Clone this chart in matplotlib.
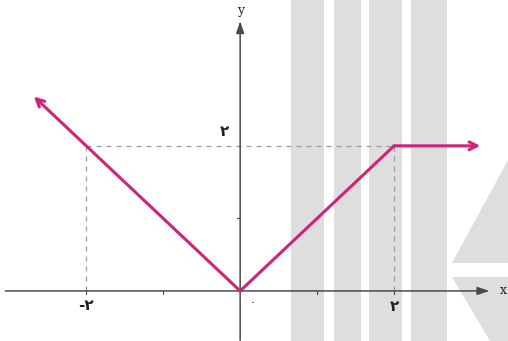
"""
Piecewise graph: y = |x| for x <= 2, y = 2 for x > 2, drawn textbook style.
"""

import matplotlib.pyplot as plt
import matplotlib.patches as mpatches

# Piecewise pieces of the function (x, y)
left_x = [0.0, -2.68]
left_y = [0.0, 2.68]
mid_x = [0.0, 2.0]
mid_y = [0.0, 2.0]
right_x = [2.0, 3.12]
right_y = [2.0, 2.0]

# Guide points and labels
guide_x = 2.0
guide_y = 2.0
tick_x = [-2, -1, 1, 2]
tick_y = [1, 2]
label_neg = '-۲'
label_pos = '۲'
label_zero = '۰'

LINE = '#d0237a'
AXIS = '#4a4a4a'
GUIDE = '#9a9a9a'
BAR = '#dedede'
TXT = '#222222'

W, H = 508, 341


def px(x0, y0):
    """Figure-pixel coordinates (top-left origin) to figure fraction."""
    return x0 / W, 1 - y0 / H


def main():
    plt.rcParams['font.family'] = ['DejaVu Sans']
    fig = plt.figure(figsize=(W / 100, H / 100), dpi=100)

    # background decoration (scanned-page watermark)
    bg = fig.add_axes([0, 0, 1, 1], zorder=0)
    bg.set_xlim(0, 1)
    bg.set_ylim(0, 1)
    bg.axis('off')
    for x0, x1 in [(291, 324), (334, 361), (369, 402), (411, 447)]:
        bg.add_patch(mpatches.Rectangle(
            (x0 / W, 0), (x1 - x0) / W, 1,
            facecolor=BAR, edgecolor='none'))
    tri_up = [px(452, 263), px(508, 263), px(508, 160)]
    tri_dn = [px(452, 277), px(508, 277), px(508, 341), px(490, 341)]
    for pts in (tri_up, tri_dn):
        bg.add_patch(mpatches.Polygon(pts, closed=True,
                                      facecolor=BAR, edgecolor='none'))

    ax = fig.add_axes([0, 0, 1, 1], zorder=1)
    ax.set_xlim(-3.12, 3.48)
    ax.set_ylim(-0.69, 4.01)
    ax.axis('off')
    ax.patch.set_alpha(0)

    # axes with arrowheads
    ax.annotate('', xy=(3.24, 0), xytext=(-3.05, 0),
                arrowprops=dict(arrowstyle='-|>,head_length=0.6,head_width=0.2',
                                color=AXIS, lw=1.1,
                                mutation_scale=12, shrinkA=0, shrinkB=0))
    ax.annotate('', xy=(0, 3.72), xytext=(0, -0.68),
                arrowprops=dict(arrowstyle='-|>,head_length=0.6,head_width=0.2',
                                color=AXIS, lw=1.1,
                                mutation_scale=12, shrinkA=0, shrinkB=0))
    ax.text(3.42, 0, 'x', ha='center', va='center', fontsize=9, color=TXT,
            family='DejaVu Serif')
    ax.text(0, 3.86, 'y', ha='center', va='center', fontsize=9, color=TXT,
            family='DejaVu Serif')

    # small ticks
    for t in tick_x:
        ax.plot([t, t], [0, -0.04], color=AXIS, lw=0.8)
    for t in tick_y:
        ax.plot([0, -0.04], [t, t], color=AXIS, lw=0.8)

    # dashed guides
    ax.plot([-guide_x, guide_x], [guide_y, guide_y], ls=(0, (4, 4)),
            color=GUIDE, lw=0.9)
    ax.plot([-guide_x, -guide_x], [0, guide_y], ls=(0, (4, 4)),
            color=GUIDE, lw=0.9)
    ax.plot([guide_x, guide_x], [0, guide_y], ls=(0, (4, 4)),
            color=GUIDE, lw=0.9)

    # the function
    ax.plot(mid_x, mid_y, color=LINE, lw=2.2, solid_capstyle='round')
    ax.annotate('', xy=(right_x[1], right_y[1]), xytext=(right_x[0], right_y[0]),
                arrowprops=dict(arrowstyle='->', color=LINE, lw=2.2,
                                mutation_scale=14, shrinkA=0, shrinkB=0))
    ax.annotate('', xy=(left_x[1], left_y[1]), xytext=(left_x[0], left_y[0]),
                arrowprops=dict(arrowstyle='->', color=LINE, lw=2.2,
                                mutation_scale=14, shrinkA=0, shrinkB=0))

    # labels
    ax.text(-2.0, -0.2, label_neg, ha='center', va='center', fontsize=11,
            color=TXT, fontweight='bold')
    ax.text(2.0, -0.22, label_pos, ha='center', va='center', fontsize=11,
            color=TXT, fontweight='bold')
    ax.text(-0.2, 2.2, label_pos, ha='center', va='center', fontsize=11,
            color=TXT, fontweight='bold')
    ax.text(0.16, -0.17, label_zero, ha='center', va='center', fontsize=8,
            color=TXT)

    fig.savefig('out.png', dpi=100)
    plt.close(fig)


if __name__ == '__main__':
    main()
